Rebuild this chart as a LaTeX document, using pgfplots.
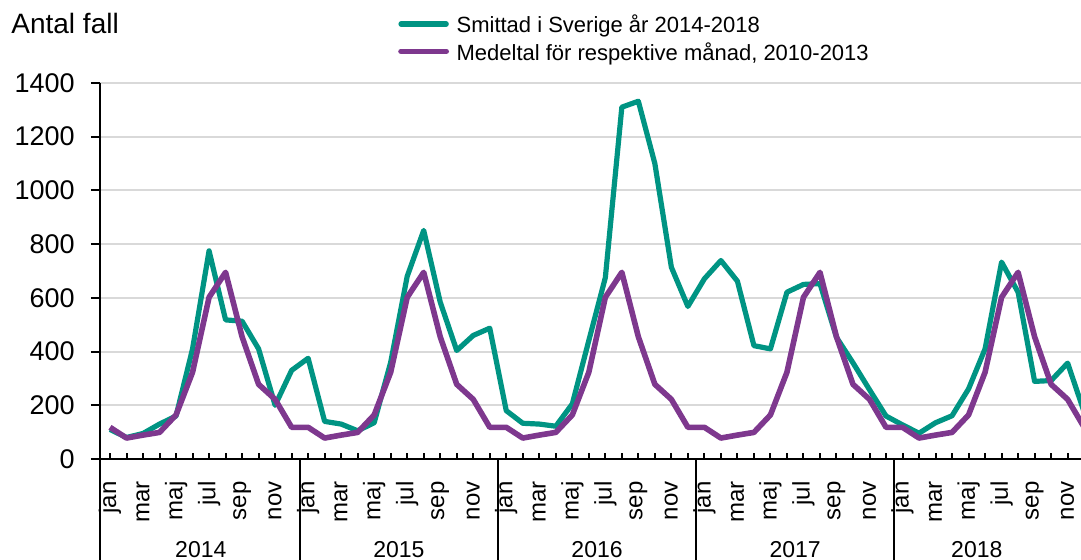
\documentclass[border=0pt]{standalone}
\usepackage{pgfplots}
\pgfplotsset{compat=1.18}
\usepackage{pgfplotstable}
\usepackage{fontspec}
\setmainfont{Liberation Sans}
\definecolor{tealc}{RGB}{0,148,131}
\definecolor{purpc}{RGB}{126,56,142}
\definecolor{gridc}{RGB}{217,217,217}

\pgfplotstableread{
m s p
0 110 118
1 80 78
2 95 89
3 130 99
4 160 164
5 410 323
6 775 602
7 518 695
8 513 455
9 410 278
10 200 222
11 330 118
12 375 118
13 140 78
14 130 89
15 105 99
16 135 164
17 360 323
18 680 602
19 851 695
20 584 455
21 404 278
22 460 222
23 487 118
24 180 118
25 133 78
26 130 89
27 122 99
28 205 164
29 441 323
30 675 602
31 1310 695
32 1332 455
33 1100 278
34 714 222
35 568 118
36 671 118
37 739 78
38 662 89
39 422 99
40 410 164
41 621 323
42 650 602
43 653 695
44 453 455
45 358 278
46 258 222
47 160 118
48 127 118
49 96 78
50 135 89
51 161 99
52 261 164
53 410 323
54 733 602
55 621 695
56 289 455
57 292 278
58 357 222
59 175 118
}\data

\begin{document}
\begin{tikzpicture}
\useasboundingbox (0,0) rectangle (540.5pt,280pt);
% month ticks (inside)
\begin{axis}[
  at={(50pt,50.5pt)}, anchor=south west,
  scale only axis, width=490.5pt, height=188pt,
  xmin=-0.606, xmax=58.81, ymin=0, ymax=1400,
  axis x line*=bottom, axis y line=none,
  axis line style={draw=none},
  tick align=inside, major tick length=2.8pt,
  tick style={black, line width=1pt},
  xtick={0,...,59}, xticklabels={},
  ytick=\empty,
]
\end{axis}
\begin{axis}[
  at={(50pt,50.5pt)}, anchor=south west,
  scale only axis, width=490.5pt, height=188pt,
  xmin=-0.606, xmax=58.81, ymin=0, ymax=1400,
  clip=false,
  axis x line*=bottom, axis y line*=left,
  axis line style={-, black, line width=1pt},
  tick align=outside,
  major tick length=4.5pt,
  tick style={black, line width=1pt},
  ytick={0,200,...,1400},
  ymajorgrids, grid style={gridc, line width=1pt},
  xtick={0,...,59},
  xticklabels={jan,{},mar,{},maj,{},jul,{},sep,{},nov,{},
               jan,{},mar,{},maj,{},jul,{},sep,{},nov,{},
               jan,{},mar,{},maj,{},jul,{},sep,{},nov,{},
               jan,{},mar,{},maj,{},jul,{},sep,{},nov,{},
               jan,{},mar,{},maj,{},jul,{},sep,{},nov,{}},
  major x tick style={draw=none},
  extra x ticks={-0.606,11.5,23.5,35.5,47.5},
  extra x tick labels={},
  extra x tick style={major tick length=56pt, major x tick style={draw=black, line width=1pt}},
  xticklabel style={yshift=-6.5pt, rotate=90, anchor=east, inner sep=0pt, font=\fontsize{12pt}{14pt}\selectfont},
  yticklabel style={xshift=-8pt, anchor=east, inner sep=0pt, font=\fontsize{13.5pt}{16pt}\selectfont},
  /pgf/number format/assume math mode=true,
  /pgf/number format/1000 sep={},
  every axis y label/.style={at={(rel axis cs:0,1)}, anchor=base west, inner sep=0pt, xshift=-44.5pt, yshift=24.5pt, font=\fontsize{14pt}{16pt}\selectfont},
  ylabel={Antal fall},
  legend image code/.code={\draw[#1, line cap=round] (0pt,0pt) -- (22.6pt,0pt);},
  legend cell align=left,
  legend style={at={(0.3040,1.1809)}, anchor=north west, draw=none, fill=none,
    inner sep=0pt, outer sep=0pt, row sep=4.7pt,
    nodes={inner sep=0pt, text height=9pt, text depth=0pt},
    font=\fontsize{11pt}{13pt}\selectfont,
    /tikz/every odd column/.append style={column sep=3.8pt}},
]
\addplot[tealc, line width=2.6pt, line join=round] table[x=m, y=s] {\data};
\addlegendentry{Smittad i Sverige år 2014-2018}
\addplot[purpc, line width=2.8pt, line join=round] table[x=m, y=p] {\data};
\addlegendentry{Medeltal för respektive månad, 2010-2013}
\node[anchor=base, inner sep=0pt, font=\fontsize{11.5pt}{13pt}\selectfont] at (axis cs:5.5,0) [yshift=-49.5pt] {2014};
\node[anchor=base, inner sep=0pt, font=\fontsize{11.5pt}{13pt}\selectfont] at (axis cs:17.5,0) [yshift=-49.5pt] {2015};
\node[anchor=base, inner sep=0pt, font=\fontsize{11.5pt}{13pt}\selectfont] at (axis cs:29.5,0) [yshift=-49.5pt] {2016};
\node[anchor=base, inner sep=0pt, font=\fontsize{11.5pt}{13pt}\selectfont] at (axis cs:41.5,0) [yshift=-49.5pt] {2017};
\node[anchor=base, inner sep=0pt, font=\fontsize{11.5pt}{13pt}\selectfont] at (axis cs:52.5,0) [yshift=-49.5pt] {2018};
\end{axis}
\end{tikzpicture}
\end{document}
